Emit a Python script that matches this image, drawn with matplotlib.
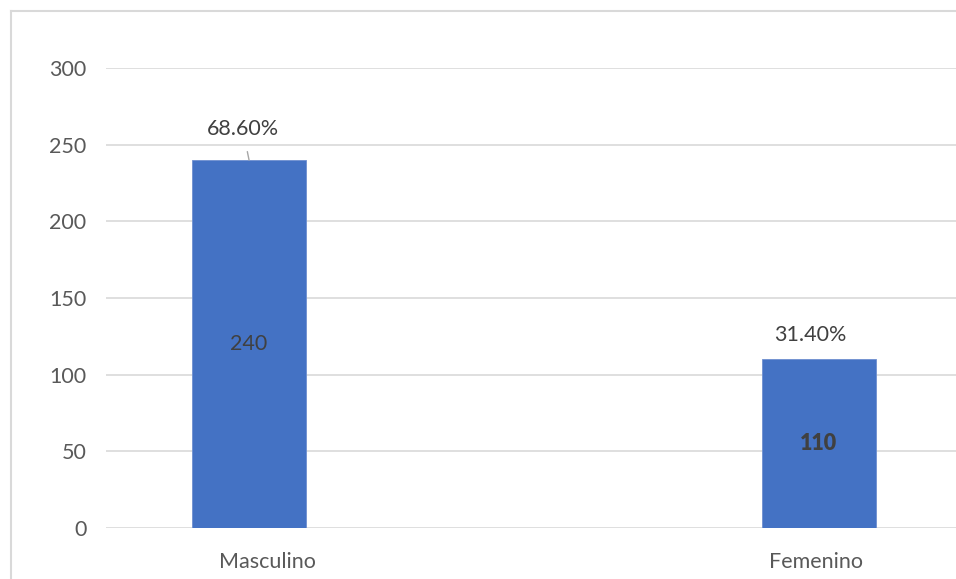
import matplotlib.pyplot as plt
import matplotlib.transforms as mtransforms
from matplotlib.lines import Line2D

categorias = ['Masculino', 'Femenino']
valores = [240, 110]
porcentajes = ['68.60%', '31.40%']

plt.rcParams['font.family'] = ['Lato', 'DejaVu Sans']
fs = 15.5

fig = plt.figure(figsize=(9.56, 5.79), dpi=100)
ax = fig.add_axes([106/956, 51/579, 856/956, 460/579])

x = range(len(categorias))
ax.bar(x, valores, width=0.2, color='#4472C4', edgecolor='#6E8FD0', linewidth=0.6, zorder=3)

ax.set_xlim(-0.251, 1.251)
ax.set_ylim(0, 300)
ax.set_yticks(range(0, 301, 50))
ax.yaxis.grid(True, color='#D9D9D9', linewidth=1.2, zorder=0)
for s in ax.spines.values():
    s.set_visible(False)
ax.tick_params(length=0, labelsize=fs, colors='#595959', pad=14)
ax.tick_params(axis='x', pad=17)
ax.set_xticks(list(x))
ax.set_xticklabels(categorias)

# desplazamiento de etiquetas del eje x como en el original
desp = [0.18, -0.03]
for lab, d in zip(ax.get_xticklabels(), desp):
    lab.set_transform(lab.get_transform() + mtransforms.ScaledTranslation(d, 0, fig.dpi_scale_trans))

# etiquetas de valor dentro de las barras
ax.text(0, valores[0] / 2, str(valores[0]), ha='center', va='center', fontsize=fs, color='#404040', zorder=4)
ax.text(1, valores[1] / 2, str(valores[1]), ha='center', va='center', fontsize=fs, color='#404040',
        fontweight='heavy', zorder=4)

# porcentajes encima
ax.annotate(porcentajes[0], xy=(0, valores[0]), xytext=(-0.011, valores[0] + 20),
            ha='center', va='center', fontsize=fs, color='#404040',
            arrowprops=dict(arrowstyle='-', color='#A6A6A6', lw=1, shrinkA=7, shrinkB=0))
ax.text(1 - 0.016, valores[1] + 16, porcentajes[1], ha='center', va='center', fontsize=fs, color='#404040')

# borde del gráfico
fig.add_artist(Line2D([11/956, 1], [1 - 11/579, 1 - 11/579], transform=fig.transFigure, color='#D9D9D9', lw=1.5))
fig.add_artist(Line2D([11/956, 11/956], [0, 1 - 11/579], transform=fig.transFigure, color='#D9D9D9', lw=1.5))

fig.savefig('out.png', dpi=100)
